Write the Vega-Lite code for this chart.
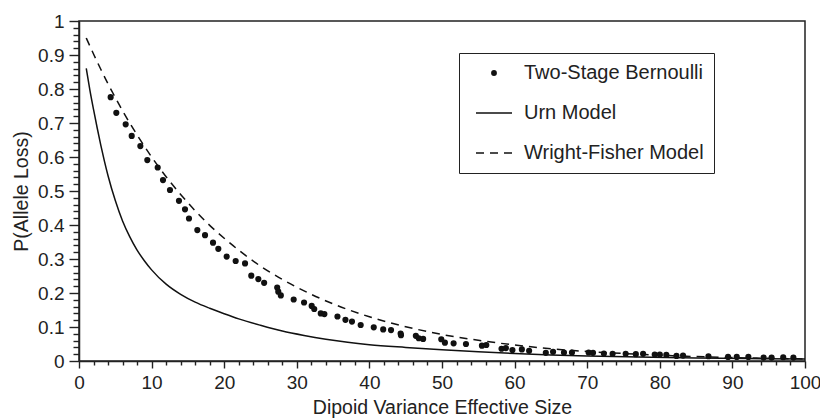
{
  "$schema": "https://vega.github.io/schema/vega-lite/v6.json",
  "width": 726,
  "height": 340,
  "autosize": {"type": "none"},
  "padding": {"left": 79, "top": 21, "right": 15, "bottom": 59},
  "background": "white",
  "config": {
    "font": "Liberation Sans",
    "view": {"stroke": "#222", "strokeWidth": 1.5},
    "axis": {"grid": false, "domainColor": "#222", "tickColor": "#222", "labelColor": "#222", "titleColor": "#222", "titleFontWeight": "normal"}
  },
  "datasets": {
    "urn": [
      {"x": 1, "p": 0.861}, {"x": 1.5, "p": 0.797}, {"x": 2, "p": 0.740}, {"x": 2.5, "p": 0.686},
      {"x": 3, "p": 0.635}, {"x": 3.5, "p": 0.588}, {"x": 4, "p": 0.545}, {"x": 5, "p": 0.472},
      {"x": 6, "p": 0.412}, {"x": 7, "p": 0.365}, {"x": 8, "p": 0.326}, {"x": 9, "p": 0.295},
      {"x": 10, "p": 0.268}, {"x": 12, "p": 0.226}, {"x": 14, "p": 0.196}, {"x": 16, "p": 0.173},
      {"x": 18, "p": 0.155}, {"x": 20, "p": 0.139}, {"x": 22, "p": 0.124}, {"x": 25, "p": 0.105},
      {"x": 28, "p": 0.088}, {"x": 31, "p": 0.075}, {"x": 34, "p": 0.064}, {"x": 37, "p": 0.055},
      {"x": 40, "p": 0.048}, {"x": 45, "p": 0.040}, {"x": 50, "p": 0.033}, {"x": 55, "p": 0.027},
      {"x": 60, "p": 0.022}, {"x": 65, "p": 0.018}, {"x": 70, "p": 0.015}, {"x": 77, "p": 0.012},
      {"x": 85, "p": 0.009}, {"x": 92, "p": 0.007}, {"x": 100, "p": 0.006}
    ],
    "wf": [
      {"x": 1, "p": 0.950}, {"x": 2, "p": 0.903}, {"x": 3, "p": 0.858}, {"x": 4, "p": 0.815},
      {"x": 5, "p": 0.775}, {"x": 6, "p": 0.736}, {"x": 8, "p": 0.665}, {"x": 10, "p": 0.600},
      {"x": 12, "p": 0.542}, {"x": 14, "p": 0.490}, {"x": 16, "p": 0.442}, {"x": 18, "p": 0.399},
      {"x": 20, "p": 0.361}, {"x": 22, "p": 0.326}, {"x": 25, "p": 0.279}, {"x": 28, "p": 0.240},
      {"x": 30, "p": 0.217}, {"x": 35, "p": 0.168}, {"x": 40, "p": 0.130}, {"x": 45, "p": 0.101},
      {"x": 50, "p": 0.078}, {"x": 55, "p": 0.061}, {"x": 60, "p": 0.047}, {"x": 65, "p": 0.036},
      {"x": 70, "p": 0.028}, {"x": 75, "p": 0.022}, {"x": 80, "p": 0.017}, {"x": 85, "p": 0.013},
      {"x": 90, "p": 0.010}, {"x": 95, "p": 0.008}, {"x": 100, "p": 0.006}
    ],
    "tsb": [
      {"x": 4.36, "p": 0.776}, {"x": 5.14, "p": 0.730}, {"x": 6.43, "p": 0.696}, {"x": 7.26, "p": 0.662},
      {"x": 8.45, "p": 0.632}, {"x": 9.41, "p": 0.591}, {"x": 10.84, "p": 0.569}, {"x": 11.57, "p": 0.532},
      {"x": 12.53, "p": 0.503}, {"x": 13.77, "p": 0.471}, {"x": 14.6, "p": 0.446}, {"x": 15.15, "p": 0.419},
      {"x": 16.3, "p": 0.385}, {"x": 17.36, "p": 0.370}, {"x": 18.46, "p": 0.348}, {"x": 19.19, "p": 0.330},
      {"x": 20.34, "p": 0.307}, {"x": 21.58, "p": 0.294}, {"x": 22.87, "p": 0.287}, {"x": 23.73, "p": 0.251},
      {"x": 24.7, "p": 0.241}, {"x": 25.5, "p": 0.230}, {"x": 27.3, "p": 0.216}, {"x": 27.45, "p": 0.204},
      {"x": 27.8, "p": 0.193}, {"x": 29.57, "p": 0.181}, {"x": 31.0, "p": 0.172}, {"x": 32.05, "p": 0.162},
      {"x": 32.4, "p": 0.153}, {"x": 33.3, "p": 0.140}, {"x": 33.8, "p": 0.138}, {"x": 35.6, "p": 0.131},
      {"x": 36.7, "p": 0.121}, {"x": 37.6, "p": 0.116}, {"x": 38.8, "p": 0.106}, {"x": 40.6, "p": 0.099},
      {"x": 41.9, "p": 0.093}, {"x": 42.98, "p": 0.091}, {"x": 44.3, "p": 0.081}, {"x": 44.35, "p": 0.076},
      {"x": 46.4, "p": 0.074}, {"x": 46.8, "p": 0.067}, {"x": 47.4, "p": 0.065}, {"x": 49.9, "p": 0.064},
      {"x": 50.4, "p": 0.054}, {"x": 51.6, "p": 0.052}, {"x": 53.3, "p": 0.050}, {"x": 55.5, "p": 0.045},
      {"x": 56.1, "p": 0.047}, {"x": 58.2, "p": 0.036}, {"x": 58.8, "p": 0.038}, {"x": 59.7, "p": 0.032},
      {"x": 61.0, "p": 0.034}, {"x": 62.0, "p": 0.030}, {"x": 64.3, "p": 0.024}, {"x": 65.3, "p": 0.027},
      {"x": 66.8, "p": 0.025}, {"x": 67.9, "p": 0.025}, {"x": 70.2, "p": 0.025}, {"x": 70.8, "p": 0.024},
      {"x": 72.3, "p": 0.022}, {"x": 73.5, "p": 0.021}, {"x": 75.3, "p": 0.021}, {"x": 76.7, "p": 0.020},
      {"x": 77.7, "p": 0.021}, {"x": 79.3, "p": 0.019}, {"x": 80.0, "p": 0.019}, {"x": 80.9, "p": 0.018},
      {"x": 82.3, "p": 0.015}, {"x": 83.2, "p": 0.016}, {"x": 86.7, "p": 0.014}, {"x": 89.4, "p": 0.012},
      {"x": 90.6, "p": 0.012}, {"x": 92.2, "p": 0.012}, {"x": 94.3, "p": 0.010}, {"x": 95.4, "p": 0.010},
      {"x": 97.0, "p": 0.011}, {"x": 98.4, "p": 0.010}
    ]
  },
  "encoding": {
    "x": {"field": "x", "type": "quantitative", "scale": {"domain": [0, 100], "nice": false},
      "axis": {"orient": "bottom", "tickCount": 50,
        "labelExpr": "round(datum.value) % 10 === 0 ? format(datum.value, 'd') : ''",
        "labelOverlap": false, "labelFlush": false, "labelFontSize": 19, "labelPadding": 5,
        "tickSize": {"condition": {"test": "round(datum.value) % 10 === 0", "value": 7}, "value": 4},
        "tickWidth": 1.4,
        "domainWidth": 1.5, "title": "Dipoid Variance Effective Size", "titleFontSize": 19.5, "titlePadding": 6}},
    "y": {"field": "p", "type": "quantitative", "scale": {"domain": [0, 1], "nice": false},
      "axis": {"orient": "left", "tickCount": 50,
        "labelExpr": "round(datum.value * 100) % 10 === 0 ? format(datum.value, '~g') : ''",
        "labelOverlap": false, "labelFontSize": 19, "labelPadding": 5,
        "tickSize": {"condition": {"test": "round(datum.value * 100) % 10 === 0", "value": 10}, "value": 6},
        "tickWidth": 1.4,
        "domainWidth": 1.5, "title": "P(Allele Loss)", "titleFontSize": 19.5, "titlePadding": 6}},
    "color": {"field": "series", "type": "nominal",
      "scale": {"domain": ["Two-Stage Bernoulli", "Urn Model", "Wright-Fisher Model"], "range": ["#111", "#111", "#111"]},
      "legend": {
        "orient": "none", "legendX": 380, "legendY": 32, "title": null,
        "padding": 10, "strokeColor": "#222", "fillColor": "white",
        "labelFontSize": 20, "labelColor": "#222", "labelFont": "Liberation Sans", "labelLimit": 400,
        "symbolSize": 400, "symbolOffset": 15, "labelOffset": 20, "rowPadding": 20,
        "symbolStrokeWidth": 1.5,
        "encode": {"symbols": {"update": {
          "shape": {"signal": "datum.value === 'Two-Stage Bernoulli' ? 'circle' : 'M-1.8,0H1.8'"},
          "size": {"signal": "datum.value === 'Two-Stage Bernoulli' ? 34 : 400"},
          "strokeDash": {"signal": "datum.value === 'Wright-Fisher Model' ? [8,6] : [1,0]"},
          "fill": {"signal": "datum.value === 'Two-Stage Bernoulli' ? '#111' : 'transparent'"},
          "stroke": {"value": "#111"},
          "strokeWidth": {"signal": "datum.value === 'Two-Stage Bernoulli' ? 0 : 1.5"},
          "opacity": {"value": 1}
        }}}
      }}
  },
  "layer": [
    {
      "data": {"name": "urn"},
      "transform": [{"calculate": "'Urn Model'", "as": "series"}],
      "mark": {"type": "line", "strokeWidth": 1.5, "interpolate": "monotone"}
    },
    {
      "data": {"name": "wf"},
      "transform": [{"calculate": "'Wright-Fisher Model'", "as": "series"}],
      "mark": {"type": "line", "strokeWidth": 1.5, "strokeDash": [8, 6], "interpolate": "monotone"}
    },
    {
      "data": {"name": "tsb"},
      "transform": [{"calculate": "'Two-Stage Bernoulli'", "as": "series"}],
      "mark": {"type": "point", "filled": true, "shape": "circle", "size": 38, "opacity": 1}
    }
  ]
}
